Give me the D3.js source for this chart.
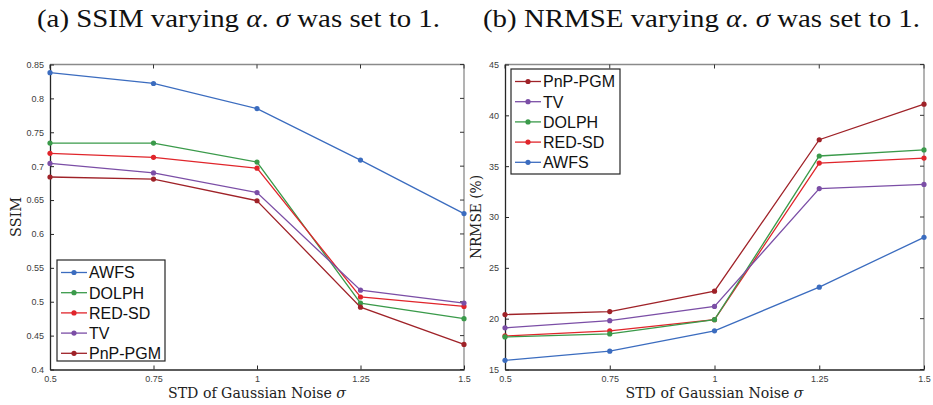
<!DOCTYPE html>
<html><head><meta charset="utf-8">
<script src="https://cdn.jsdelivr.net/npm/d3@7"></script>
<style>body{margin:0;background:#fff;} svg{display:block;}</style>
</head><body>
<svg id="c" width="933" height="405"></svg>
<script>
const sigmas = [0.5, 0.75, 1, 1.25, 1.5];
const xTicks = [0.5, 0.75, 1, 1.25, 1.5];
const xTickLabels = ["0.5", "0.75", "1", "1.25", "1.5"];
const ssimTicks = [0.4, 0.45, 0.5, 0.55, 0.6, 0.65, 0.7, 0.75, 0.8, 0.85];
const nrmseTicks = [15, 20, 25, 30, 35, 40, 45];

const ssimAWFS   = [0.838, 0.822, 0.785, 0.709, 0.630];
const ssimDOLPH  = [0.734, 0.734, 0.706, 0.498, 0.475];
const ssimREDSD  = [0.719, 0.713, 0.697, 0.507, 0.493];
const ssimTV     = [0.704, 0.690, 0.661, 0.517, 0.498];
const ssimPnP    = [0.684, 0.681, 0.649, 0.492, 0.437];

const nrmseAWFS  = [15.9, 16.8, 18.8, 23.1, 28.0];
const nrmseDOLPH = [18.2, 18.5, 19.9, 36.0, 36.6];
const nrmseREDSD = [18.3, 18.8, 19.9, 35.3, 35.8];
const nrmseTV    = [19.1, 19.8, 21.2, 32.8, 33.2];
const nrmsePnP   = [20.4, 20.7, 22.7, 37.6, 41.1];

const colors = {AWFS:"#3b6cbf", DOLPH:"#3a9a4a", "RED-SD":"#e0252b", TV:"#7b4ea6", "PnP-PGM":"#9f2228"};

const svg = d3.select("#c");

function panel(opts){
  const g = svg.append("g");
  const x = d3.scaleLinear().domain([0.5,1.5]).range([opts.x0, opts.x1]);
  const y = d3.scaleLinear().domain(opts.ydom).range([opts.y1, opts.y0]);
  g.append("line").attr("x1",opts.x0).attr("x2",opts.x1).attr("y1",opts.y0).attr("y2",opts.y0).attr("stroke","#8a8a8a").attr("stroke-width",1.3);
  g.append("line").attr("x1",opts.x1).attr("x2",opts.x1).attr("y1",opts.y0).attr("y2",opts.y1).attr("stroke","#8a8a8a").attr("stroke-width",1.3);
  xTicks.forEach(t=>{
    g.append("line").attr("x1",x(t)).attr("x2",x(t)).attr("y1",opts.y0).attr("y2",opts.y0+4).attr("stroke","#333").attr("stroke-width",1);
  });
  opts.yticks.forEach(t=>{
    g.append("line").attr("x1",opts.x1).attr("x2",opts.x1-4).attr("y1",y(t)).attr("y2",y(t)).attr("stroke","#333").attr("stroke-width",1);
  });
  const xa = g.append("g").attr("transform",`translate(0,${opts.y1})`)
    .call(d3.axisBottom(x).tickValues(xTicks).tickFormat((d,i)=>xTickLabels[i]).tickSizeInner(-4).tickSizeOuter(0).tickPadding(6));
  const ya = g.append("g").attr("transform",`translate(${opts.x0},0)`)
    .call(d3.axisLeft(y).tickValues(opts.yticks).tickFormat(d=>String(+d.toFixed(2))).tickSizeInner(-4).tickSizeOuter(0).tickPadding(6));
  [xa,ya].forEach(a=>{
    a.select(".domain").attr("stroke","#262626").attr("stroke-width",1.3);
    a.selectAll(".tick line").attr("stroke","#262626");
    a.selectAll(".tick text").attr("fill","#404040").style("font-family","Liberation Sans, Arial, sans-serif").style("font-size","9px");
  });
  const line = d3.line().x((d,i)=>x(sigmas[i])).y(d=>y(d));
  opts.series.forEach(s=>{
    g.append("path").datum(s.values).attr("d",line).attr("fill","none").attr("stroke",colors[s.name]).attr("stroke-width",1.3);
    g.selectAll(null).data(s.values).enter().append("circle")
      .attr("cx",(d,i)=>x(sigmas[i])).attr("cy",d=>y(d)).attr("r",2.6).attr("fill",colors[s.name]);
  });
  const xl = g.append("text").attr("x",(opts.x0+opts.x1)/2).attr("y",398).attr("text-anchor","middle")
    .style("font-family","DejaVu Serif, serif").style("font-size","15px").attr("fill","#222")
    .attr("textLength",178).attr("lengthAdjust","spacingAndGlyphs");
  xl.append("tspan").text("STD of Gaussian Noise ");
  xl.append("tspan").style("font-style","italic").text("σ");
  g.append("text").attr("transform",`translate(${opts.ylabX},${(opts.y0+opts.y1)/2}) rotate(-90)`).attr("text-anchor","middle")
    .style("font-family","DejaVu Serif, serif").style("font-size","15px").attr("fill","#222")
    .attr("textLength",opts.ylabLen).attr("lengthAdjust","spacingAndGlyphs")
    .text(opts.ylab);
  const L = opts.legend;
  g.append("rect").attr("x",L.x).attr("y",L.y).attr("width",L.w).attr("height",L.h).attr("fill","#fff").attr("stroke","#262626").attr("stroke-width",1.2);
  L.order.forEach((n,i)=>{
    const yy = L.y + 12.5 + i*20.2;
    g.append("line").attr("x1",L.x+4).attr("x2",L.x+30).attr("y1",yy).attr("y2",yy).attr("stroke",colors[n]).attr("stroke-width",1.3);
    g.append("circle").attr("cx",L.x+17).attr("cy",yy).attr("r",2.6).attr("fill",colors[n]);
    g.append("text").attr("x",L.x+32).attr("y",yy+5.8).style("font-family","Liberation Sans, Arial, sans-serif").style("font-size","16px").attr("fill","#111").text(n);
  });
  const tt = g.append("text").attr("x",opts.titleX).attr("y",27).style("font-family","Liberation Serif, serif").style("font-size","25px").attr("fill","#111")
    .attr("textLength",opts.titleLen).attr("lengthAdjust","spacingAndGlyphs");
  tt.append("tspan").text(opts.titlePre + " varying ");
  tt.append("tspan").style("font-style","italic").text("α");
  tt.append("tspan").text(". ");
  tt.append("tspan").style("font-style","italic").text("σ");
  tt.append("tspan").text(" was set to 1.");
}

panel({x0:50, x1:464, y0:64.5, y1:369.5, ydom:[0.4,0.85], yticks:ssimTicks,
  series:[{name:"AWFS",values:ssimAWFS},{name:"DOLPH",values:ssimDOLPH},{name:"RED-SD",values:ssimREDSD},{name:"TV",values:ssimTV},{name:"PnP-PGM",values:ssimPnP}],
  ylab:"SSIM", ylabX:21, ylabLen:40,
  legend:{x:57,y:260,w:108,h:101,order:["AWFS","DOLPH","RED-SD","TV","PnP-PGM"]},
  titlePre:"(a) SSIM", titleX:37, titleLen:403});

panel({x0:505, x1:924, y0:64.5, y1:369.5, ydom:[15,45], yticks:nrmseTicks,
  series:[{name:"AWFS",values:nrmseAWFS},{name:"RED-SD",values:nrmseREDSD},{name:"DOLPH",values:nrmseDOLPH},{name:"TV",values:nrmseTV},{name:"PnP-PGM",values:nrmsePnP}],
  ylab:"NRMSE (%)", ylabX:481, ylabLen:84,
  legend:{x:511,y:69,w:109,h:105,order:["PnP-PGM","TV","DOLPH","RED-SD","AWFS"]},
  titlePre:"(b) NRMSE", titleX:483, titleLen:437});
</script>
</body></html>
